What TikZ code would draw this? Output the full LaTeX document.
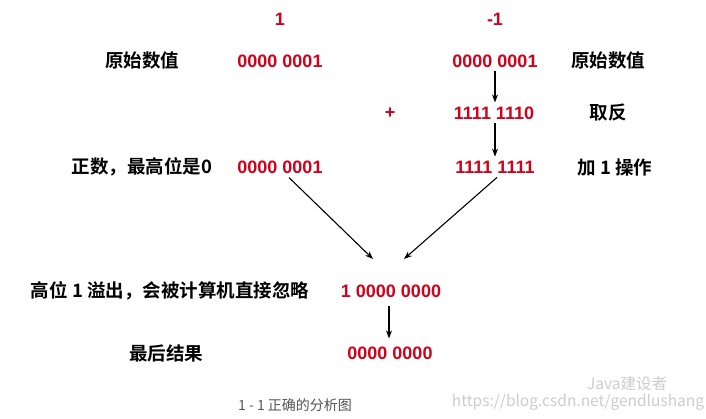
\documentclass[tikz,border=0pt]{standalone}
\usepackage{fontspec}
\setmainfont{Noto Sans CJK SC}[BoldFont={Noto Sans CJK SC Bold}]
\newfontfamily\numfont{Liberation Sans}
\usetikzlibrary{arrows.meta}
\definecolor{numred}{RGB}{208,2,27}
\definecolor{capgray}{RGB}{85,85,85}
\definecolor{wmgray}{RGB}{205,205,205}
\tikzset{
  num/.style={text=numred,font=\numfont\fontsize{18}{21}\selectfont\bfseries,inner sep=0pt},
  lbl/.style={text=black,font=\fontsize{18.5}{21}\selectfont\bfseries,inner sep=0pt},
  arr/.style={draw=black,line width=1.1pt,-{Stealth[length=8pt,width=6pt]}},
  captext/.style={text=capgray,font=\fontsize{14}{16}\selectfont,inner sep=0pt},
  wmtext/.style={text=wmgray,font=\fontsize{15.5}{17}\selectfont,inner sep=0pt}
}
\begin{document}
\begin{tikzpicture}[x=1pt,y=-1pt]
\useasboundingbox[fill=white] (0,0) rectangle (706,418);
% column headers
\node[num] (h1) at (280,19) {1};
\node[num] (h2) at (495,19) {-1};
% row 1
\node[lbl] (l1) at (142,61) {原始数值};
\node[num] (p1) at (280,61) {0000 0001};
\node[num] (n1) at (495,61) {0000 0001};
\node[lbl] (r1) at (608,61) {原始数值};
% row 2
\node[num] (plus) at (390,113) {+};
\node[num] (n2) at (494,113) {1111 1110};
\node[lbl] (r2) at (608,113) {取反};
% row 3
\node[lbl] (l3) at (142,167) {正数，最高位是0};
\node[num] (p3) at (280,167) {0000 0001};
\node[num] (n3) at (495,167) {1111 1111};
\node[lbl] (r3) at (615,167) {加 1 操作};
% row 4
\node[lbl] (l4) at (170,291) {高位 1 溢出，会被计算机直接忽略};
\node[num] (s) at (391,291) {1 0000 0000};
% row 5
\node[lbl] (l5) at (166,353) {最后结果};
\node[num] (res) at (390,353) {0000 0000};
% caption and watermark
\node[captext] (caption) at (295,405) {1 - 1 正确的分析图};
\node[wmtext] (wm1) at (627,384) {Java建设者};
\node[wmtext] (wm2) at (578,402) {https://blog.csdn.net/gendlushang};
% connectors
\coordinate (sl) at (373,259);
\coordinate (sr) at (404,259);
\draw[arr] ([yshift=-3pt]n1.south) -- ([yshift=4pt]n1.south |- n2.north);
\draw[arr] ([yshift=-3pt]n1.south |- n2.south) -- ([yshift=4pt]n1.south |- n3.north);
\draw[arr] ([xshift=9pt,yshift=-4pt]p3.south) -- (sl);
\draw[arr] ([xshift=2pt,yshift=-4pt]n3.south) -- (sr);
\draw[arr] ([xshift=-2pt,yshift=-8pt]s.south) -- ([xshift=-2pt,yshift=8pt]s.south |- res.north);
\end{tikzpicture}
\end{document}
